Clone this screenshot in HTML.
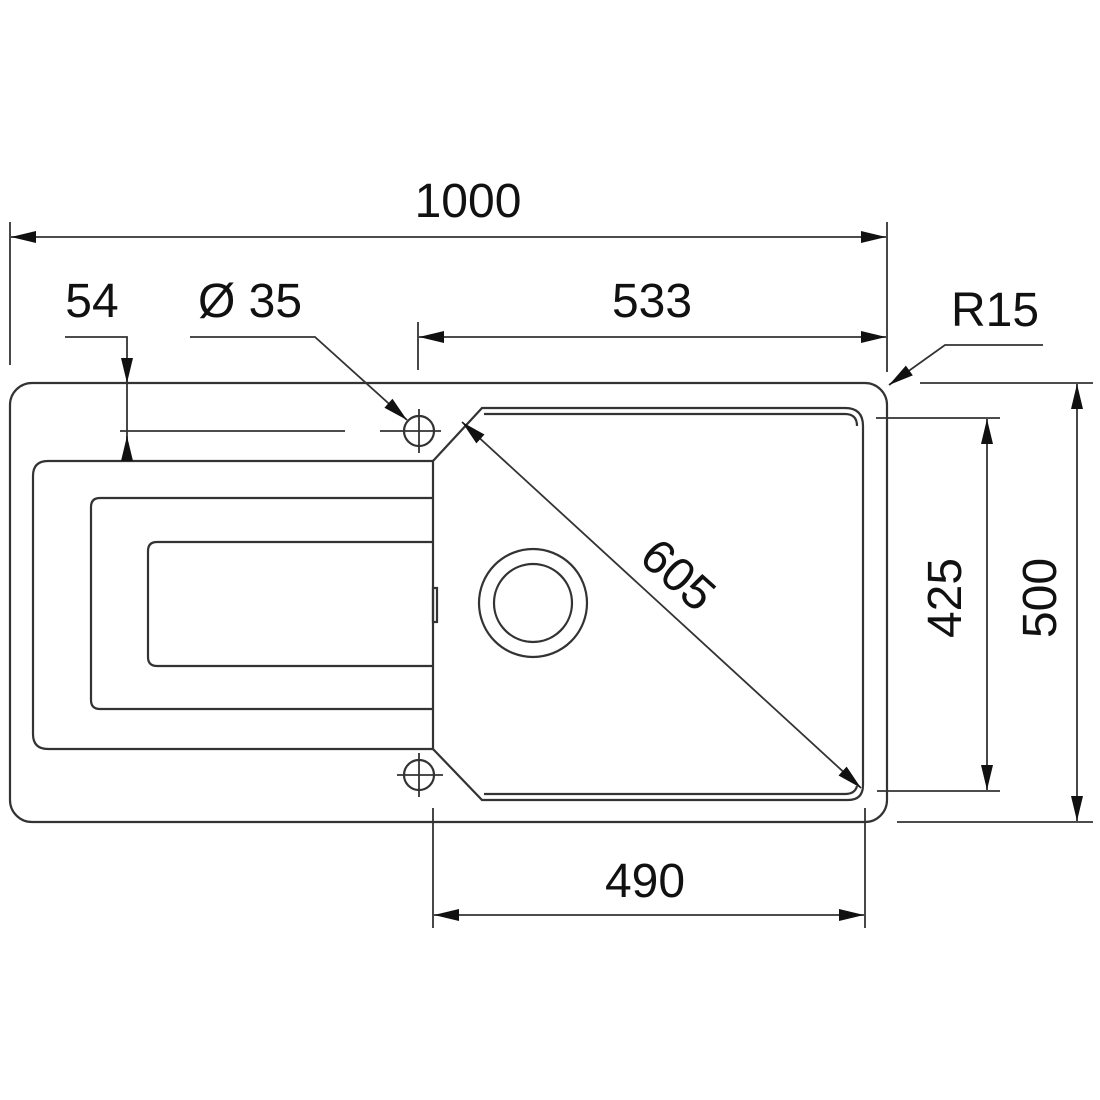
<!DOCTYPE html>
<html><head><style>body{margin:0;background:#fff}svg{display:block}</style></head><body>
<svg width="1100" height="1100" viewBox="0 0 1100 1100" xmlns="http://www.w3.org/2000/svg">
<defs>
<marker id="a" viewBox="-26 -7 27 14" refX="0" refY="0" markerWidth="27" markerHeight="14" markerUnits="userSpaceOnUse" orient="auto-start-reverse"><path d="M-25,-6 L0,0 L-25,6 Z" fill="#111"/></marker>
</defs>
<g fill="none" stroke="#333" stroke-width="2.2">
<rect x="10" y="383" width="877" height="439" rx="22"/>
<path d="M433,461 L48,461 Q33,461 33,476 L33,734 Q33,749 48,749 L433,749"/>
<path d="M433,498 L100,498 Q91,498 91,507 L91,700 Q91,709 100,709 L433,709"/>
<path d="M433,542 L157,542 Q148,542 148,551 L148,657 Q148,666 157,666 L433,666"/>
<rect x="433" y="588" width="4" height="34"/>
<path d="M433,461 L482,408 L845,408 Q863,408 863,426 L863,785 Q863,800 848,800 L482,800 L433,749 Z"/>
<path d="M484,414 L845,414 Q857,414 857,426"/>
<path d="M484,794 L845,794 Q855,794 857,786"/>
<circle cx="533" cy="603" r="54"/>
<circle cx="533" cy="603" r="39"/>
<circle cx="419" cy="431" r="15"/>
<circle cx="419" cy="775" r="15"/>
</g>
<g fill="none" stroke="#333" stroke-width="1.8">
<path d="M399,431 H441 M419,409 V453 M397,775 H443 M419,753 V797"/>
<path d="M120,431 H345 M380,431 H399"/>
<path d="M10,222 V365 M887,222 V372"/>
<path d="M11,237 H886" marker-start="url(#a)" marker-end="url(#a)"/>
<path d="M418,322 V370"/>
<path d="M419,337 H886" marker-start="url(#a)" marker-end="url(#a)"/>
<path d="M65,337 H127 V383" marker-end="url(#a)"/>
<path d="M127,383 V459"/>
<path d="M127,459 V436" marker-end="url(#a)"/>
<path d="M190,337 H315 L407,420" marker-end="url(#a)"/>
<path d="M1043,345 H945 L889,385" marker-end="url(#a)"/>
<path d="M462,422 L861,788" marker-start="url(#a)" marker-end="url(#a)"/>
<path d="M876,418 H1000 M877,791 H1000"/>
<path d="M987,419 V790" marker-start="url(#a)" marker-end="url(#a)"/>
<path d="M920,383 H1093 M897,822 H1093"/>
<path d="M1077,384 V821" marker-start="url(#a)" marker-end="url(#a)"/>
<path d="M433,808 V928 M865,808 V928"/>
<path d="M434,915 H864" marker-start="url(#a)" marker-end="url(#a)"/>
</g>
<g font-family="Liberation Sans, sans-serif" font-size="48" fill="#111" text-anchor="middle">
<text x="468" y="217">1000</text>
<text x="652" y="317">533</text>
<text x="92" y="317">54</text>
<text x="250" y="317">Ø 35</text>
<text x="995" y="326">R15</text>
<text x="645" y="897">490</text>
<text transform="translate(678,575) rotate(42)" y="16">605</text>
<text transform="translate(945,598) rotate(-90)" y="16">425</text>
<text transform="translate(1040,598) rotate(-90)" y="16">500</text>
</g>
</svg>
</body></html>
